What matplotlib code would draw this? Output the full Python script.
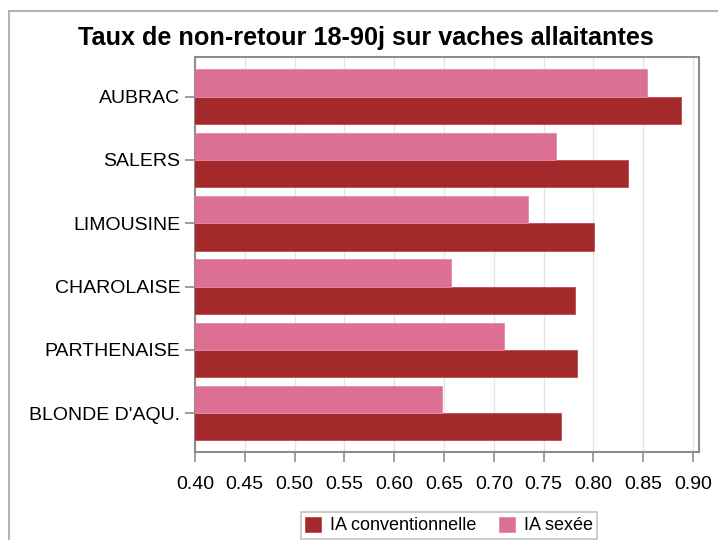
import numpy as np
import matplotlib
matplotlib.use('Agg')
import matplotlib.pyplot as plt
from matplotlib.patches import Rectangle

plt.rcParams['font.family'] = ['Liberation Sans', 'DejaVu Sans']

# data (top to bottom as displayed)
races = ['AUBRAC', 'SALERS', 'LIMOUSINE', 'CHAROLAISE', 'PARTHENAISE', "BLONDE D'AQU."]
ia_conv = [0.888, 0.835, 0.801, 0.782, 0.784, 0.767]
ia_sexee = [0.854, 0.762, 0.734, 0.657, 0.710, 0.648]
xticks = [0.40, 0.45, 0.50, 0.55, 0.60, 0.65, 0.70, 0.75, 0.80, 0.85, 0.90]

col_conv = '#a3292b'
col_sex = '#db7092'
grey = '#8c8c8c'

fig = plt.figure(figsize=(7.18, 5.4), dpi=100)
ax = fig.add_axes([195/718, 1-452/540, 504/718, 395/540])

n = len(races)
pos = np.arange(n)[::-1]
h = 0.43
ax.barh(pos - h/2, ia_conv, height=h, color=col_conv, edgecolor='#c04a4f', linewidth=0.6,
        label='IA conventionnelle', zorder=3)
ax.barh(pos + h/2, ia_sexee, height=h, color=col_sex, edgecolor='#e48aa6', linewidth=0.6,
        label='IA sexée', zorder=3)

ax.set_xlim(0.40, 0.906)
ax.set_ylim(-0.613, 5.627)
ax.set_yticks(pos)
ax.set_yticklabels(races, fontsize=14)
ax.set_xticks(xticks)
ax.set_xticklabels(['{:.2f}'.format(t) for t in xticks], fontsize=14)
ax.tick_params(axis='y', length=7, color=grey, width=1.2, pad=3.5)
ax.tick_params(axis='x', length=7, color=grey, width=1.2, pad=10)
ax.xaxis.grid(True, color='#e4e4e4', linewidth=1, zorder=0)
ax.set_axisbelow(True)
for s in ax.spines.values():
    s.set_color(grey)
    s.set_linewidth(1.5)

fig.text(366/718, 1-45/540, 'Taux de non-retour 18-90j sur vaches allaitantes',
         ha='center', va='baseline', fontsize=18.2, fontweight='bold')

# outer frame
fig.patches.append(Rectangle((9/718, -0.1), 1.2, 1.1 - 11/540, transform=fig.transFigure,
                             fill=False, edgecolor='#b4b4b4', linewidth=1.5))

leg = fig.legend(loc='lower center', bbox_to_anchor=(449/718, 1/540), ncol=2, fontsize=13,
                 frameon=True, fancybox=False, edgecolor='#b4b4b4', borderaxespad=0,
                 handlelength=0.9, handleheight=0.9, handletextpad=0.5, columnspacing=1.2,
                 borderpad=0.25)
leg.get_frame().set_linewidth(1.2)

plt.savefig('out.png', dpi=100)
